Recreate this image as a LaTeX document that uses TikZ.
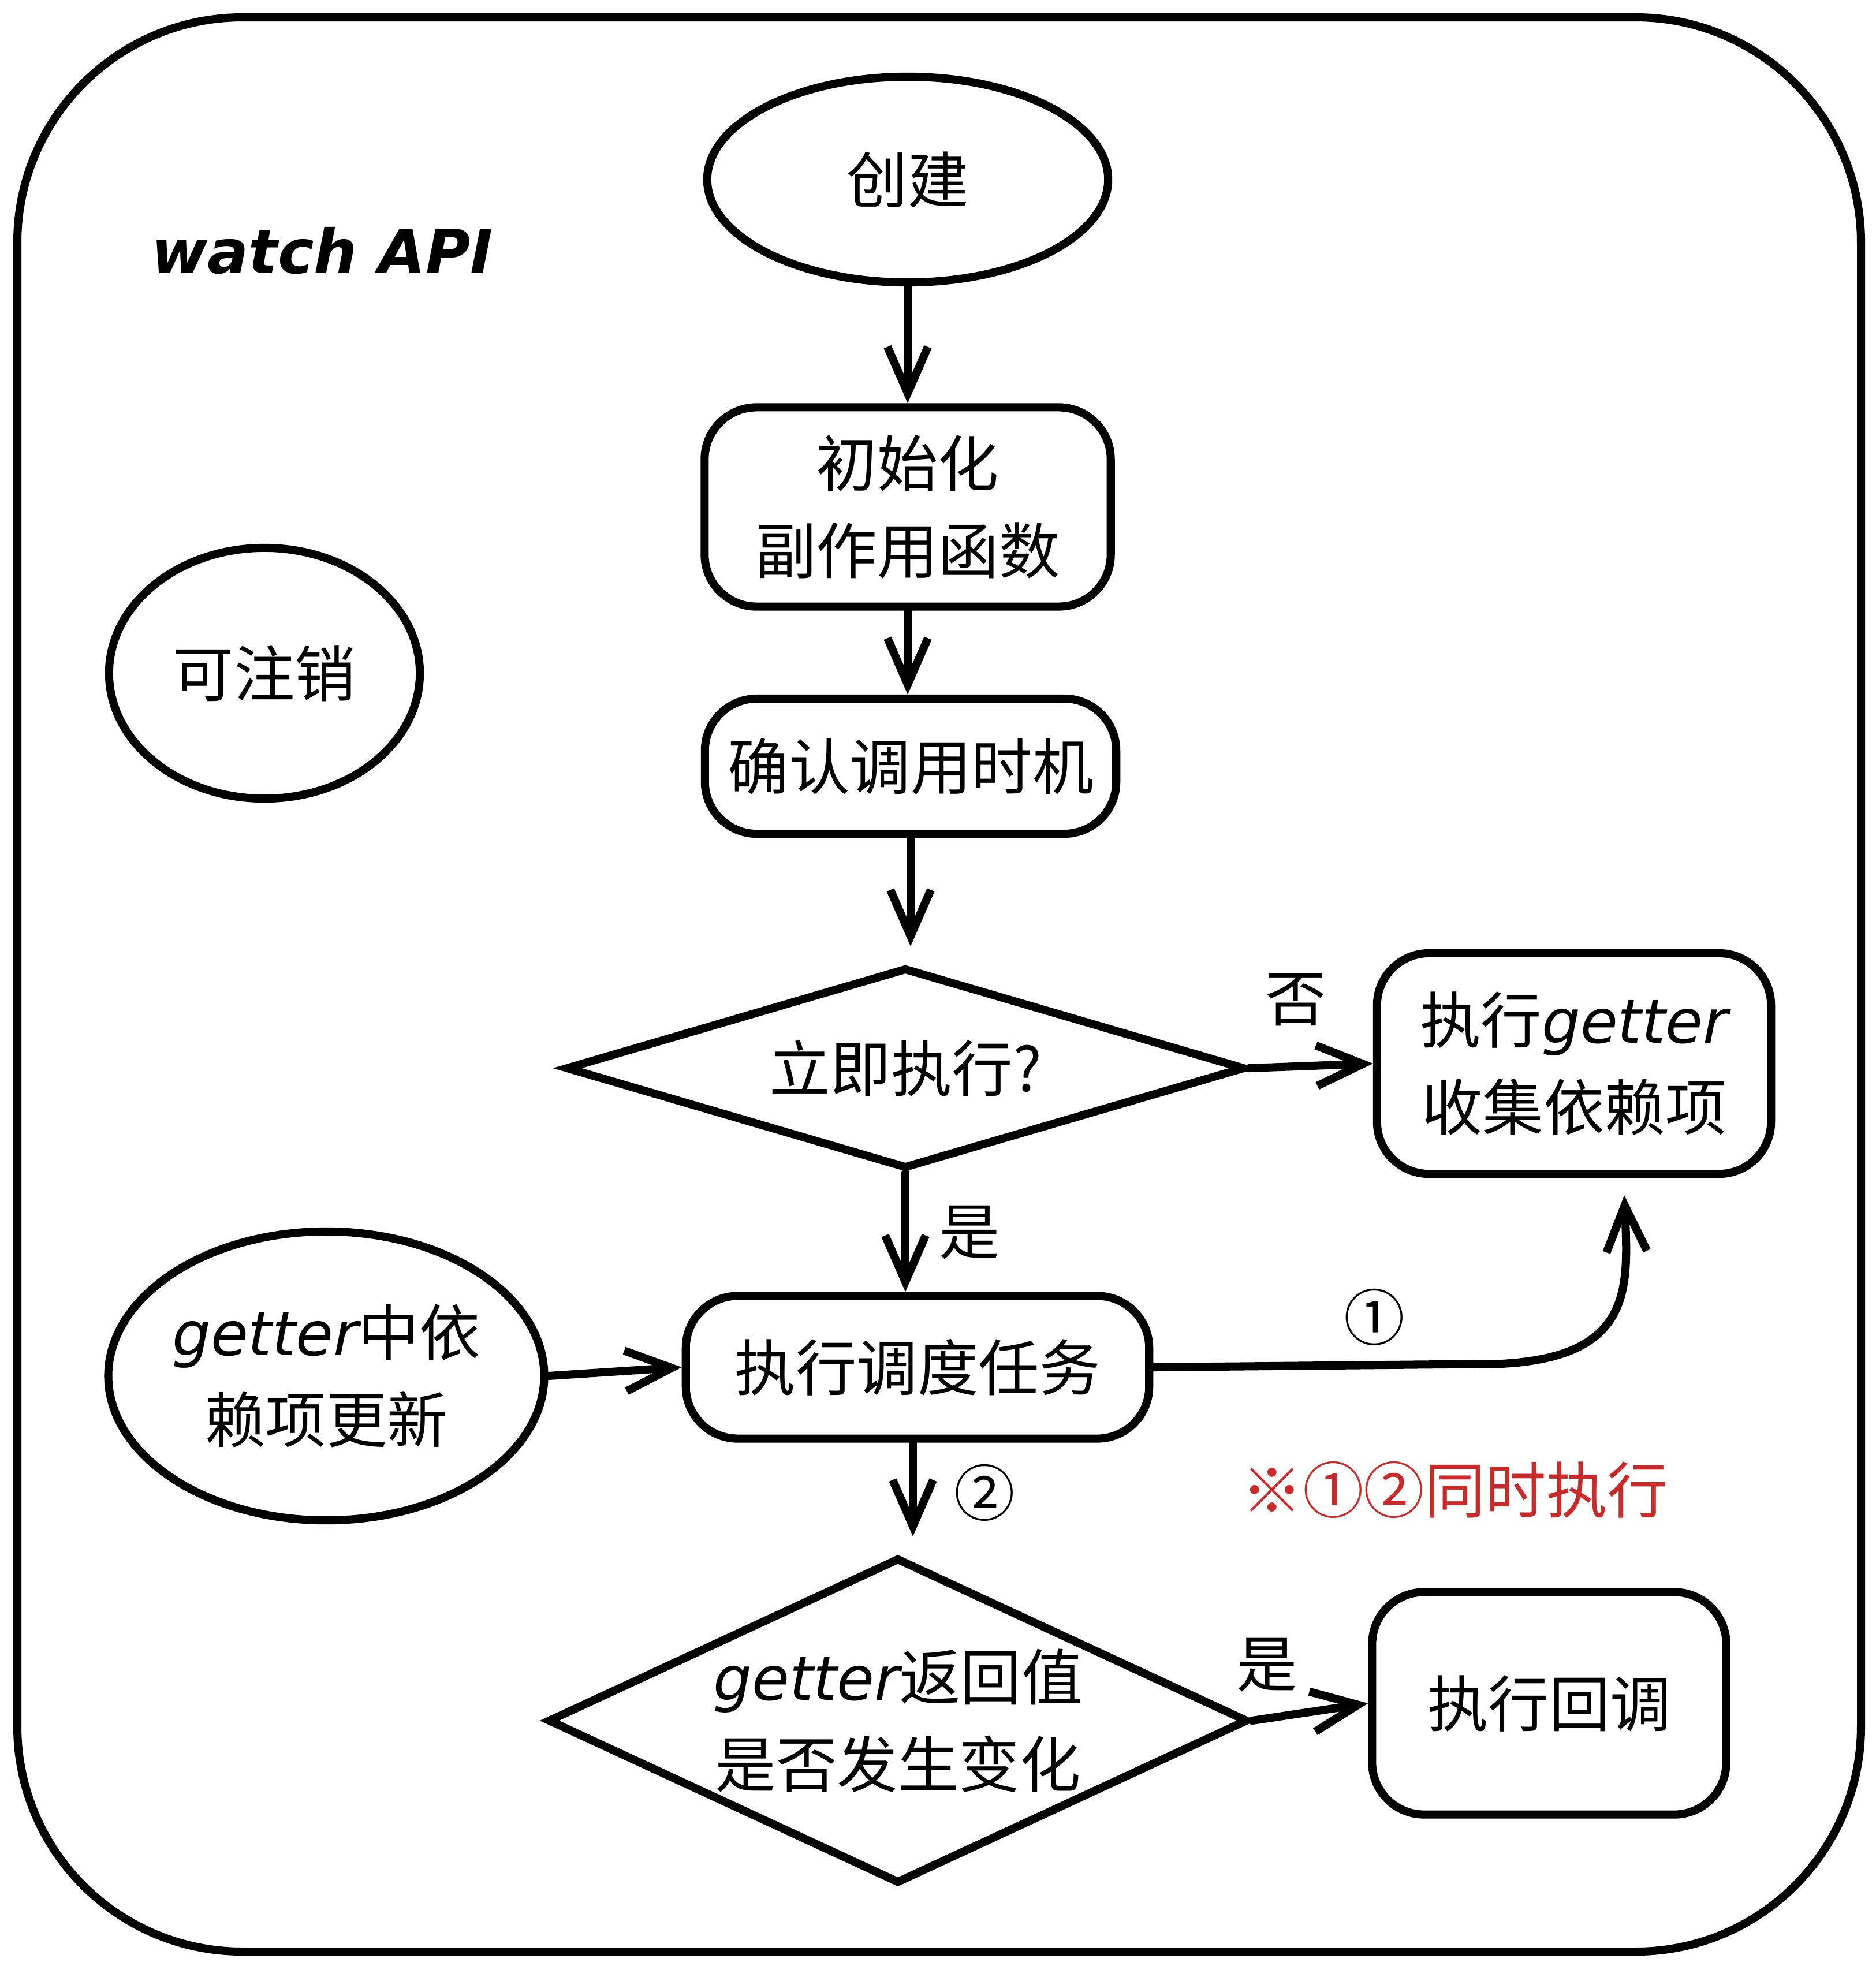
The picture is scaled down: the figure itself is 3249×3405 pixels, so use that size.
\documentclass[tikz,border=0pt]{standalone}
\usepackage{fontspec}
\setmainfont{Noto Sans CJK SC}
\newfontfamily\hand{DejaVu Sans}
\usetikzlibrary{shapes.geometric,arrows.meta}
\definecolor{notered}{HTML}{C92A2A}
\tikzset{
  base/.style={draw, line width=4pt, align=center, inner sep=0pt,
    font=\fontsize{30}{43}\selectfont},
  rbox/.style={base, rectangle, rounded corners=0.9cm},
  oval/.style={base, ellipse},
  choice/.style={base, diamond},
  flow/.style={line width=4pt, line cap=round, line join=round,
    -{Straight Barb[length=8mm,width=7mm,line width=4pt]}},
  lbl/.style={inner sep=0pt, font=\fontsize{30}{36}\selectfont},
}
\newcommand{\getter}{{\hand\itshape getter}}
\begin{document}
\begin{tikzpicture}[x=0.01cm, y=-0.01cm]
\useasboundingbox (0,0) rectangle (3249,3405);
% outer frame
\draw[line width=4pt, rounded corners=3.9cm] (30,30) rectangle (3223,3380);
% title
\node[lbl, font=\fontsize{30}{36}\selectfont\hand\bfseries\itshape] (title) at (558,434) {watch API};
% nodes
\node[oval, minimum width=6.94cm, minimum height=3.56cm] (create) at (1572,311) {创建};
\node[rbox, minimum width=7.03cm, minimum height=3.45cm] (init) at (1572,878) {初始化\\副作用函数};
\node[rbox, minimum width=7.12cm, minimum height=2.34cm] (timing) at (1577,1327) {确认调用时机};
\node[choice, aspect=3.38, minimum width=11.76cm, minimum height=3.48cm] (now) at (1568,1850) {立即执行?};
\node[rbox, minimum width=6.82cm, minimum height=3.82cm] (collect) at (2726,1842) {执行\getter\\收集依赖项};
\node[rbox, minimum width=8.02cm, minimum height=2.47cm] (sched) at (1589,2368) {执行调度任务};
\node[oval, minimum width=7.16cm, minimum height=5.0cm] (update) at (565,2383) {\getter 中依\\赖项更新};
\node[choice, aspect=2.15, minimum width=12.12cm, minimum height=5.64cm] (changed) at (1555,2980) {\getter 返回值\\是否发生变化};
\node[rbox, minimum width=6.13cm, minimum height=3.85cm] (callback) at (2683,2950) {执行回调};
\node[oval, minimum width=5.38cm, minimum height=4.34cm] (cancel) at (458,1166) {可注销};
% connectors
\draw[flow] (create.south) -- (create.south |- init.north);
\draw[flow] (init.south) -- (init.south |- timing.north);
\draw[flow] (timing.south) -- ([yshift=3mm]timing.south |- now.north);
\draw[flow] (now.east) -- (collect.west);
\node[lbl] (no) at (2244,1731) {否};
\draw[flow] (now.south) -- (now.south |- sched.north);
\node[lbl] (yes1) at (1679,2135) {是};
\draw[flow] (update.east) -- (sched.west);
\coordinate (c1end) at ([xshift=0.87cm, yshift=-0.3cm]collect.south);
\draw[flow] (sched.east) -- (2600,2362) .. controls (2830,2350) and (2820,2230) .. (c1end);
\node[lbl] (n1) at (2380,2281) {①};
\coordinate (c2start) at ([xshift=-0.08cm]sched.south);
\draw[flow] (c2start) -- ([yshift=3mm]c2start |- changed.north);
\node[lbl] (n2) at (1705,2585) {②};
\draw[flow] (changed.east) -- (callback.west);
\node[lbl] (yes2) at (2194,2884) {是};
% note
\node[lbl, text=notered] (note) at (2520,2580) {※①②同时执行};
\end{tikzpicture}
\end{document}
